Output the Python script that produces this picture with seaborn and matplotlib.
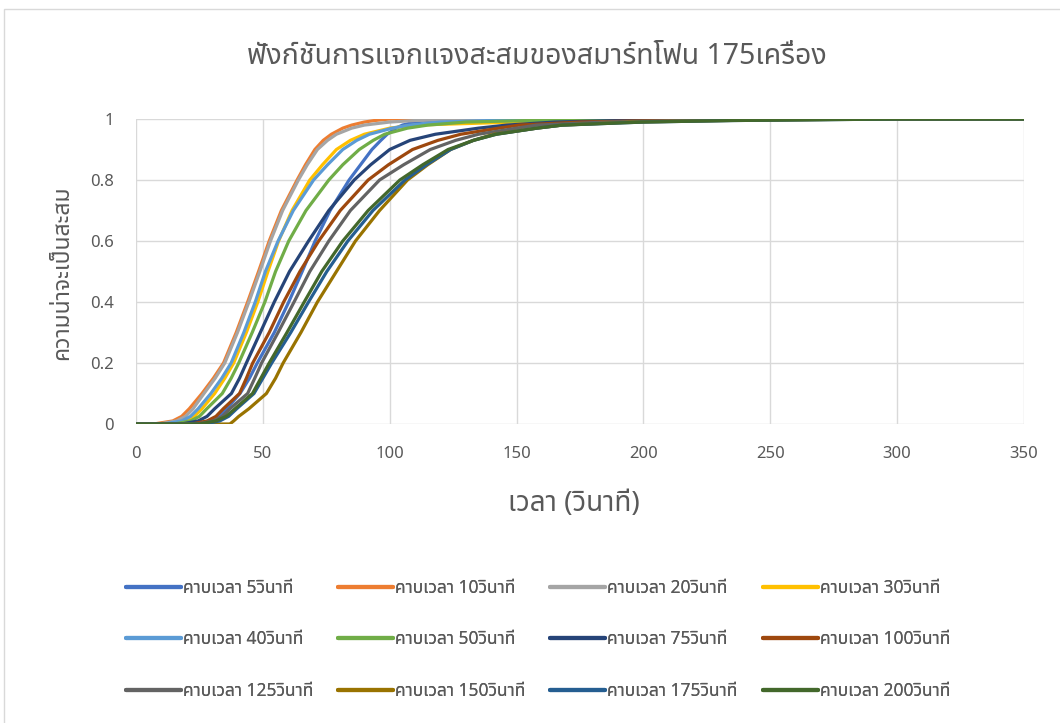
import numpy as np
import pandas as pd
import matplotlib
matplotlib.use("Agg")
import matplotlib.pyplot as plt
import seaborn as sns
from matplotlib import font_manager
from matplotlib.ft2font import FT2Font

# ---------------- data ----------------
# cumulative probability levels and, per series, the time (s) at which each level is reached
levels = [0, 0, 0.01, 0.025, 0.05, 0.1, 0.15, 0.2, 0.3, 0.4, 0.5, 0.6, 0.7, 0.8, 0.85,
          0.9, 0.93, 0.95, 0.97, 0.98, 0.99, 0.995, 1.0, 1.0]

t_5   = [0, 22, 29.5, 32.7, 35.7, 41.0, 44.7, 47.8, 54.5, 60.2, 65.5, 70.6, 76.5, 84.0, 88.5,
         93.0, 96.5, 99.0, 102.5, 105, 110, 115, 125, 350]
t_10  = [0, 7, 14.5, 18.0, 21.0, 26.0, 30.5, 34.5, 39.5, 44.0, 48.3, 52.5, 57.3, 63.5, 66.8,
         70.5, 73.8, 77.0, 81.5, 85, 90, 94, 100, 350]
t_20  = [0, 9, 16.0, 19.5, 22.5, 26.8, 31.2, 35.0, 40.0, 44.5, 48.8, 53.0, 57.8, 64.0, 67.5,
         71.5, 75.5, 79.0, 85.0, 90, 100, 110, 130, 350]
t_30  = [0, 13, 19.5, 23.0, 26.0, 31.0, 35.0, 38.5, 43.5, 48.0, 52.0, 56.2, 61.5, 68.5, 73.5,
         79.0, 84.5, 90.0, 100, 110, 150, 200, 270, 350]
t_40  = [0, 11, 18.0, 21.5, 24.5, 29.5, 33.8, 37.5, 42.5, 47.0, 51.0, 56.0, 62.0, 70.0, 75.5,
         81.5, 87.0, 92.0, 101, 108, 120, 140, 170, 350]
t_50  = [0, 15, 21.5, 25.0, 27.9, 34.0, 37.5, 40.5, 45.8, 50.8, 55.0, 60.2, 67.0, 76.0, 81.5,
         88.0, 93.5, 98.0, 107, 115, 130, 155, 200, 350]
t_75  = [0, 18, 24.5, 28.0, 31.0, 37.6, 40.8, 43.5, 49.0, 54.5, 60.5, 68.0, 76.0, 86.0, 92.5,
         100, 108, 118, 135, 146, 165, 190, 240, 350]
t_100 = [0, 22, 28.0, 31.5, 34.4, 40.8, 43.5, 46.0, 52.5, 58.2, 64.6, 72.0, 80.5, 91.5, 99.5,
         109, 119, 128, 143, 151, 175, 205, 260, 350]
t_125 = [0, 24, 30.5, 34.0, 37.0, 44.0, 46.8, 49.5, 56.0, 62.3, 68.5, 76.0, 84.5, 96.0, 105.5,
         116, 126, 135, 150, 158, 185, 215, 270, 350]
t_150 = [0, 37, 38.5, 40.5, 44.5, 51.4, 55.0, 58.0, 65.0, 71.5, 79.0, 86.5, 96.0, 107, 115,
         124, 133, 141, 158, 168, 195, 230, 290, 350]
t_175 = [0, 27, 33.0, 36.5, 39.7, 46.5, 50.0, 53.5, 61.0, 68.0, 75.2, 83.5, 93.4, 106, 114.5,
         124, 133, 142, 158, 168, 200, 235, 300, 350]
t_200 = [0, 25, 31.5, 35.5, 39.0, 45.9, 49.2, 52.5, 59.5, 66.3, 73.2, 81.5, 91.5, 104, 113,
         123, 133, 142, 158, 168, 200, 235, 300, 350]

series_names = ["คาบเวลา 5วินาที", "คาบเวลา 10วินาที", "คาบเวลา 20วินาที", "คาบเวลา 30วินาที",
                "คาบเวลา 40วินาที", "คาบเวลา 50วินาที", "คาบเวลา 75วินาที", "คาบเวลา 100วินาที",
                "คาบเวลา 125วินาที", "คาบเวลา 150วินาที", "คาบเวลา 175วินาที", "คาบเวลา 200วินาที"]
series_times = [t_5, t_10, t_20, t_30, t_40, t_50, t_75, t_100, t_125, t_150, t_175, t_200]
colors = ["#4472C4", "#ED7D31", "#A5A5A5", "#FFC000", "#5B9BD5", "#70AD47",
          "#264478", "#9E480E", "#636363", "#997300", "#255E91", "#43682B"]

title = "ฟังก์ชันการแจกแจงสะสมของสมาร์ทโฟน 175เครื่อง"
xlabel = "เวลา (วินาที)"
ylabel = "ความน่าจะเป็นสะสม"
xticks = [0, 50, 100, 150, 200, 250, 300, 350]
yticks = [0, 0.2, 0.4, 0.6, 0.8, 1.0]
ytick_labels = ["0", "0.2", "0.4", "0.6", "0.8", "1"]

# ---------------- fonts ----------------
sns.set_theme(style="white")
thai_family = None
preferred = []
for f in font_manager.fontManager.ttflist:
    try:
        cm = FT2Font(f.fname).get_charmap()
    except Exception:
        continue
    if 0x0E01 in cm and 0x0E35 in cm and 0x0E4C in cm:
        preferred.append(f.name)
if preferred:
    order = ["Noto Sans Thai", "Noto Sans Thai UI", "Loma", "Garuda", "Tlwg Typo", "Laksaman", "Sarabun"]
    thai_family = preferred[0]
    for o in order:
        if o in preferred:
            thai_family = o
            break
fams = ([thai_family] if thai_family else []) + ["DejaVu Sans"]
plt.rcParams["font.family"] = fams
GRAY = "#595959"

# ---------------- figure ----------------
fig = plt.figure(figsize=(10.6, 7.23), dpi=100)
ax = fig.add_axes([136 / 1060, 1 - 424 / 723, (1024 - 136) / 1060, (424 - 119) / 723])

rows = []
for name, times in zip(series_names, series_times):
    for t, p in zip(times, levels):
        rows.append({"t": t, "p": p, "s": name})
df = pd.DataFrame(rows)

sns.lineplot(data=df, x="t", y="p", hue="s", hue_order=series_names,
             palette=dict(zip(series_names, colors)), estimator=None, sort=False,
             linewidth=2.3, legend=False, ax=ax)
for ln in ax.get_lines():
    ln.set_solid_joinstyle("round")
    ln.set_solid_capstyle("round")

ax.set_xlim(0, 350)
ax.set_ylim(0, 1)
ax.set_xticks(xticks)
ax.set_yticks(yticks)
ax.set_yticklabels(ytick_labels)
ax.grid(True, color="#D9D9D9", linewidth=1.0)
ax.set_axisbelow(True)
for sp in ax.spines.values():
    sp.set_visible(False)
ax.tick_params(axis="both", length=0, labelsize=12, labelcolor=GRAY)
ax.tick_params(axis="x", pad=16)
ax.tick_params(axis="y", pad=16)
ax.set_xlabel("")
ax.set_ylabel("")

fig.text(537 / 1060, 1 - 56 / 723, title, ha="center", va="center", fontsize=20.5, color=GRAY)
fig.text(574 / 1060, 1 - 504 / 723, xlabel, ha="center", va="center", fontsize=20, color=GRAY)
fig.text(62 / 1060, 1 - 273 / 723, ylabel, ha="center", va="center", rotation=90, fontsize=16.5, color=GRAY)

# border of the chart area
fig.patches.append(plt.Rectangle((4 / 1060, -0.01), 1.0, 1 - 9 / 723 + 0.01, transform=fig.transFigure,
                                 fill=False, edgecolor="#D9D9D9", linewidth=1.0))

# legend: 4 columns, 3 rows (row-major order as in reference)
lines = ax.get_lines()
col_x = [126, 338, 550, 763]
for c in range(4):
    idx = [c, c + 4, c + 8]
    leg = fig.legend([lines[i] for i in idx], [series_names[i] for i in idx],
                     loc="upper left", bbox_to_anchor=(col_x[c] / 1060, 1 - 579 / 723),
                     frameon=False, fontsize=12.5, handlelength=3.15, handletextpad=0.12,
                     borderpad=0, borderaxespad=0, labelspacing=1.92, labelcolor=GRAY)
    for h in leg.legend_handles:
        h.set_linewidth(3)
    fig.add_artist(leg)

fig.savefig("out.png", dpi=100)
